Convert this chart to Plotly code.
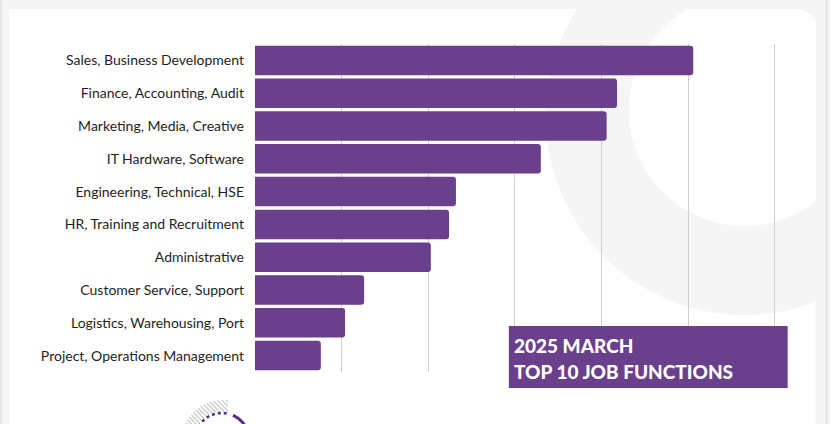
import numpy as np
import plotly.graph_objects as go

# ---------------- data ----------------
categories = [
    "Sales, Business Development",
    "Finance, Accounting, Audit",
    "Marketing, Media, Creative",
    "IT Hardware, Software",
    "Engineering, Technical, HSE",
    "HR, Training and Recruitment",
    "Administrative",
    "Customer Service, Support",
    "Logistics, Warehousing, Port",
    "Project, Operations Management",
]
values = [506, 418, 406, 330, 232, 224, 203, 126, 104, 76]
x_ticks = [0, 100, 200, 300, 400, 500, 600]
title_lines = ["2025 MARCH", "TOP 10 JOB FUNCTIONS"]

# ---------------- layout helpers (pixel -> paper) ----------------
W, H = 830, 424
X_MAX = 605
L, T, B = 255, 44, 372
R = L + 520 * X_MAX / 600.0
PURPLE = "#6a3f8b"
GRAY = "#f5f5f5"


def px(x):
    return (x - L) / (R - L)


def py(y):
    return (B - y) / (B - T)


def rect(x0, y0, x1, y1, color, layer="below"):
    return dict(type="rect", xref="paper", yref="paper",
                x0=px(x0), x1=px(x1), y0=py(y1), y1=py(y0),
                fillcolor=color, line=dict(width=0), layer=layer)


def circle(cx, cy, r, color, layer="below"):
    return dict(type="circle", xref="paper", yref="paper",
                x0=px(cx - r), x1=px(cx + r), y0=py(cy + r), y1=py(cy - r),
                fillcolor=color, line=dict(width=0), layer=layer)


def path_from(points_list):
    parts = []
    for pts in points_list:
        if len(pts) < 2:
            continue
        s = "M %.5f %.5f" % (px(pts[0][0]), py(pts[0][1]))
        for (x, y) in pts[1:]:
            s += " L %.5f %.5f" % (px(x), py(y))
        parts.append(s)
    return " ".join(parts)


shapes = [
    rect(9, 9, 816, 440, "white"),
    circle(745, 116, 199, GRAY),
    circle(745, 110, 116, "white"),
    rect(-5, -20, 840, 9, GRAY),
    rect(816, -20, 840, 440, GRAY),
    rect(826, -20, 828, 440, "#e6e6e6"),
    rect(-5, -20, 2, 440, "#e8e8e8"),
]

# decorative logo (bottom left): hatched ring sector + purple arc
lcx, lcy = 222, 440
segs = []
for k in np.arange(120, 260, 4.5):
    cur = []
    for x in np.arange(170, 270, 0.25):
        y = x + k
        r = np.hypot(x - lcx, y - lcy)
        ok = (28.5 <= r <= 40) and (x <= 228) and (y <= 426)
        if ok:
            cur.append((x, y))
        elif cur:
            segs.append([cur[0], cur[-1]])
            cur = []
    if cur:
        segs.append([cur[0], cur[-1]])
shapes.append(dict(type="path", xref="paper", yref="paper", path=path_from(segs),
                   line=dict(color="#cdcdcd", width=1.4), layer="below"))


def arc(r, a0, a1, n=40):
    angs = np.radians(np.linspace(a0, a1, n))
    return [(lcx + r * np.cos(a), lcy - r * np.sin(a)) for a in angs]


shapes.append(dict(type="path", xref="paper", yref="paper", path=path_from([arc(27, 150, 78)]),
                   line=dict(color="#5b2d82", width=2.6, dash="dot"), layer="below"))
shapes.append(dict(type="path", xref="paper", yref="paper", path=path_from([arc(27, 66, 30)]),
                   line=dict(color="#5b2d82", width=3), layer="below"))

# title box
shapes.append(rect(509, 326, 788, 388, PURPLE, layer="above"))

annotations = [
    dict(text=title_lines[0], xref="paper", yref="paper", x=px(512), y=py(345),
         xanchor="left", yanchor="middle", showarrow=False,
         font=dict(family="Lato", size=19, color="white", weight=900)),
    dict(text=title_lines[1], xref="paper", yref="paper", x=px(512), y=py(371),
         xanchor="left", yanchor="middle", showarrow=False,
         font=dict(family="Lato", size=19, color="white", weight=900)),
]

fig = go.Figure(
    go.Bar(
        x=values,
        y=categories,
        orientation="h",
        marker=dict(color=PURPLE, line=dict(width=0), cornerradius=3),
        hoverinfo="skip",
    )
)

fig.update_layout(
    width=W,
    height=H,
    margin=dict(l=L, r=W - R, t=T, b=H - B, pad=0),
    paper_bgcolor=GRAY,
    plot_bgcolor="rgba(0,0,0,0)",
    bargap=0.1,
    showlegend=False,
    hovermode=False,
    shapes=shapes,
    annotations=annotations,
    xaxis=dict(range=[0, X_MAX], tickvals=x_ticks, showticklabels=False, showgrid=True,
               gridcolor="#cfcfcf", gridwidth=1, zeroline=False, showline=False,
               ticks="", fixedrange=True),
    yaxis=dict(autorange="reversed", showgrid=False, zeroline=False, showline=False,
               ticks="", ticklabelstandoff=10, automargin=False, fixedrange=True,
               tickfont=dict(family="Lato", size=14, color="#1e1e1e")),
)

fig.write_html(
    "out.html",
    config={"displayModeBar": False, "staticPlot": True},
    post_script="document.body.style.margin='0px';document.body.style.overflow='hidden';"
                "document.body.style.background='#f5f5f5';",
)
